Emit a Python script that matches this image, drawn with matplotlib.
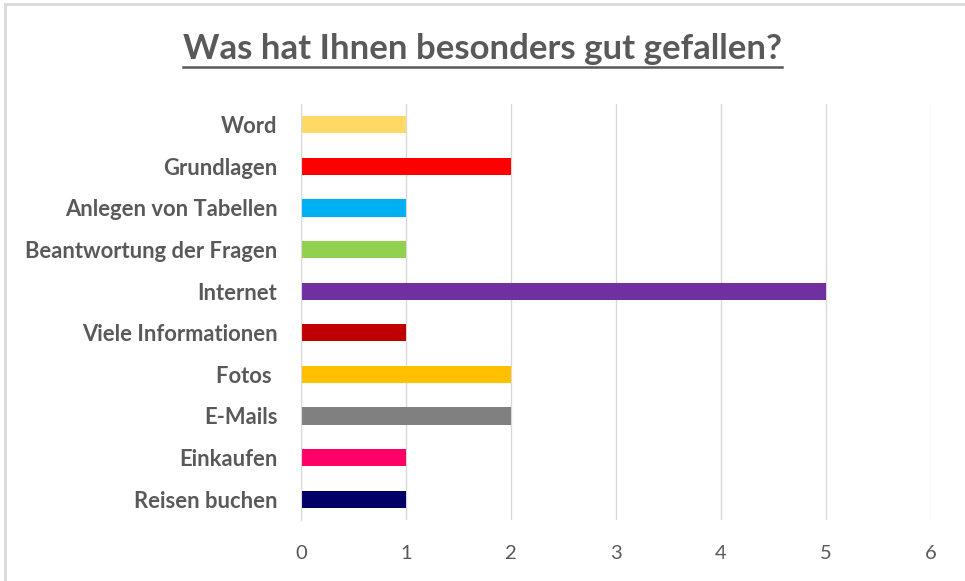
import numpy as np
import matplotlib.pyplot as plt
from matplotlib.lines import Line2D

categories = ["Word", "Grundlagen", "Anlegen von Tabellen", "Beantwortung der Fragen",
              "Internet", "Viele Informationen", "Fotos ", "E-Mails", "Einkaufen",
              "Reisen buchen"]
values = [1, 2, 1, 1, 5, 1, 2, 2, 1, 1]
colors = ["#FFD966", "#FF0000", "#00B0F0", "#92D050", "#7030A0",
          "#C00000", "#FFC000", "#808080", "#FF0066", "#000066"]
xticks = [0, 1, 2, 3, 4, 5, 6]
title = "Was hat Ihnen besonders gut gefallen?"

txt = "#595959"
plt.rcParams['font.family'] = ['Lato', 'DejaVu Sans']

fig = plt.figure(figsize=(9.65, 5.81), dpi=100)
ax = fig.add_axes([301 / 965, 1 - 520 / 581, 630 / 965, 416 / 581])

y = np.arange(len(categories))
ax.barh(y, values, height=0.41, color=colors, zorder=3)
ax.set_ylim(len(categories) - 0.5, -0.5)
ax.set_xlim(0, 6)
ax.set_xticks(xticks)
ax.set_xticklabels([str(t) for t in xticks], fontsize=14.5, color=txt)
ax.set_yticks(y)
ax.set_yticklabels(categories, fontsize=15.8, fontweight='bold', color=txt)
ax.tick_params(axis='both', length=0)
ax.tick_params(axis='x', pad=18)
ax.tick_params(axis='y', pad=17)
ax.grid(axis='x', color="#d9d9d9", linewidth=1, zorder=0)
for s in ["top", "right", "bottom"]:
    ax.spines[s].set_visible(False)
ax.spines["left"].set_color("#d9d9d9")
ax.spines["left"].set_zorder(4)

t = fig.text(0.5, 1 - 49 / 581, title, ha='center', va='center',
             fontsize=25, fontweight='bold', color=txt)

# underline title
fig.canvas.draw()
bb = t.get_window_extent().transformed(fig.transFigure.inverted())
fig.add_artist(Line2D([bb.x0, bb.x1], [1 - 67 / 581] * 2, color=txt,
                      linewidth=1.8, transform=fig.transFigure))

# picture frame on left and top
fig.add_artist(Line2D([5 / 965, 5 / 965], [0, 1 - 4 / 581], color="#d9d9d9",
                      linewidth=2, transform=fig.transFigure))
fig.add_artist(Line2D([5 / 965, 1], [1 - 4 / 581] * 2, color="#d9d9d9",
                      linewidth=2, transform=fig.transFigure))

fig.savefig("out.png", dpi=100)
